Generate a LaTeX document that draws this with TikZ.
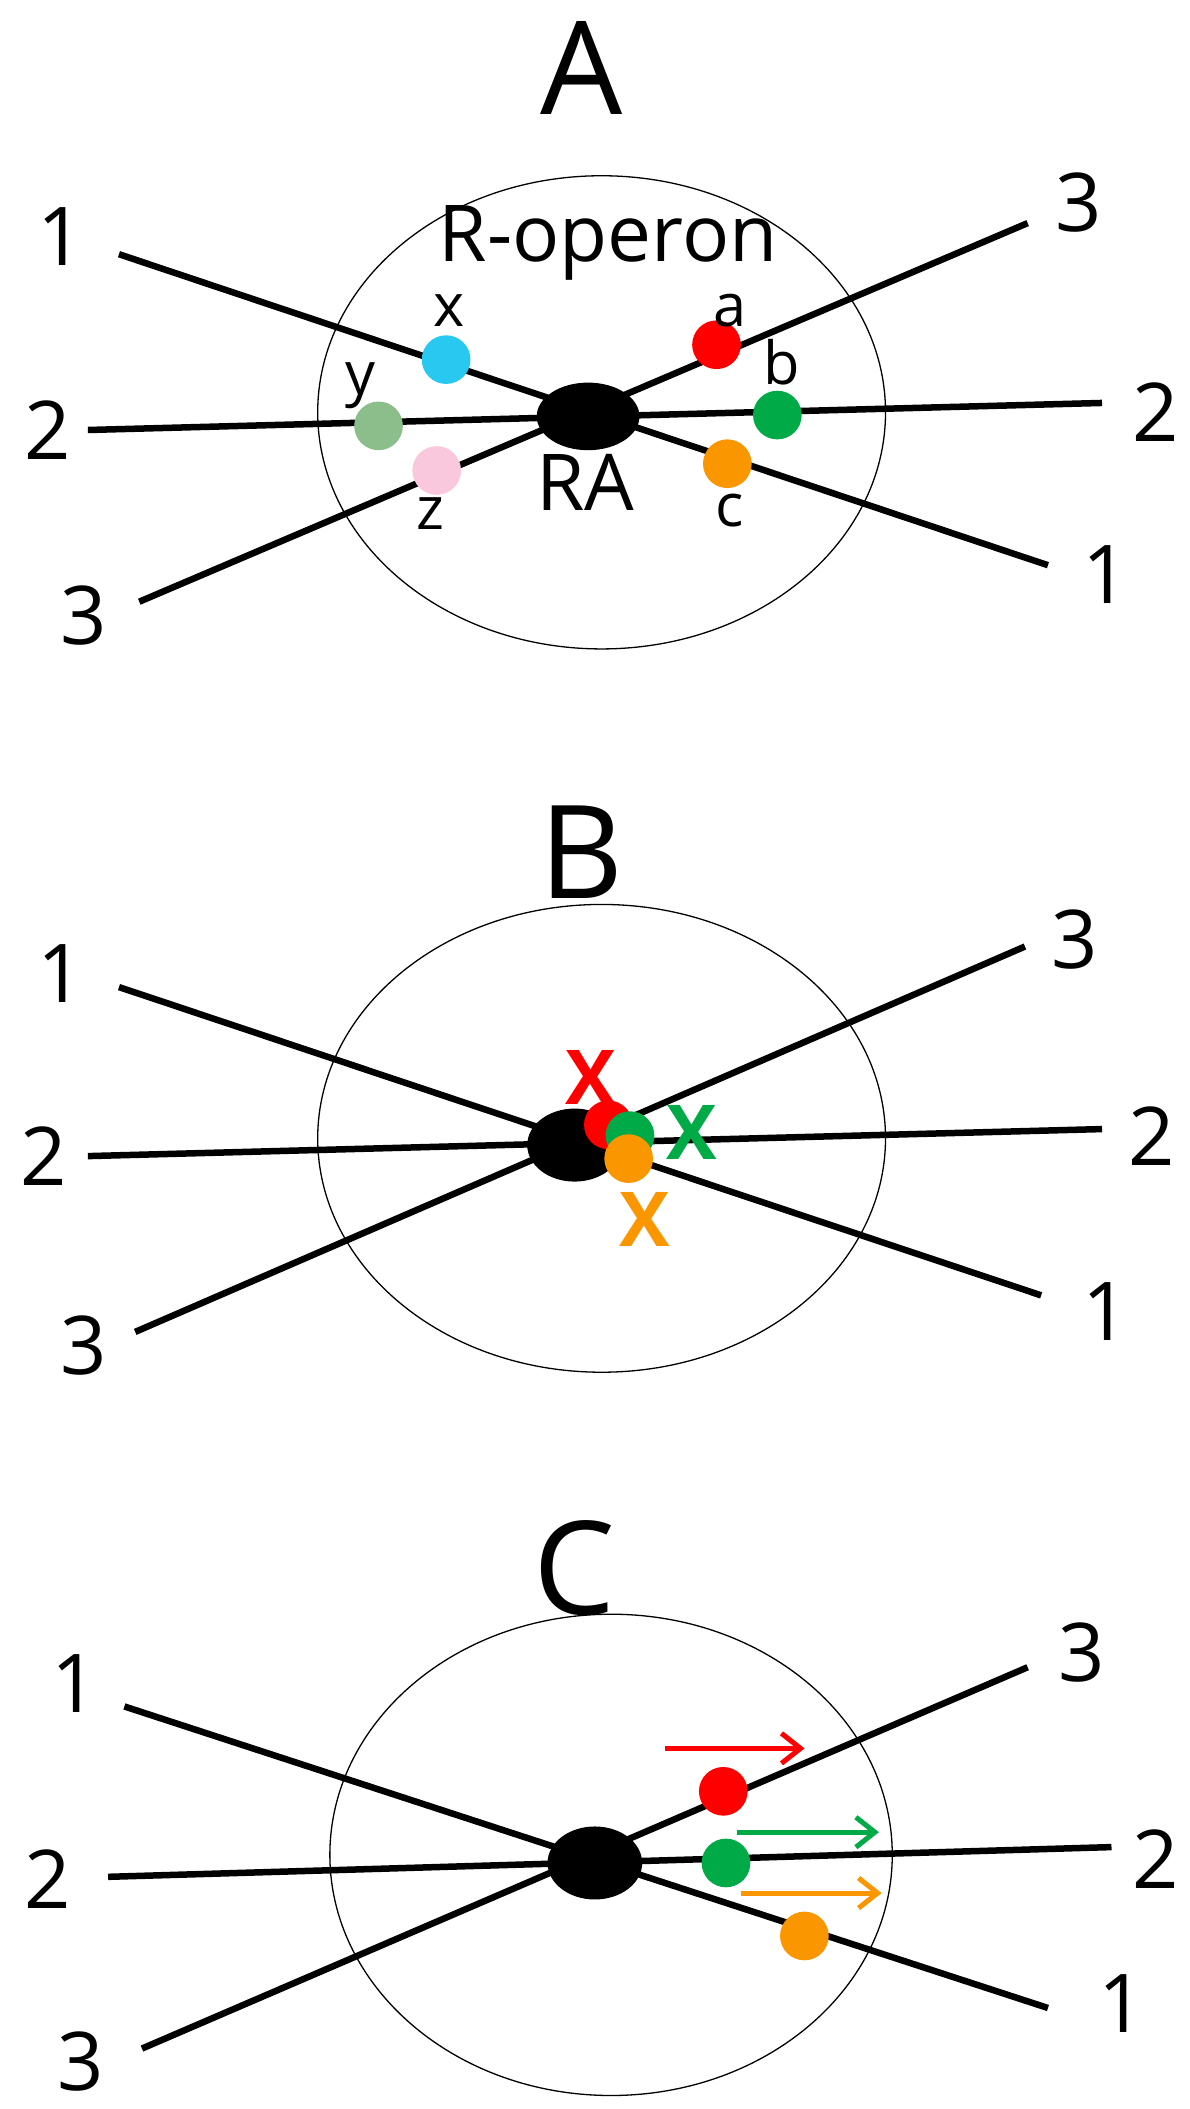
\documentclass[tikz,border=0pt]{standalone}
\usepackage{fontspec}
\setmainfont{Open Sans}
\usetikzlibrary{arrows.meta}
\definecolor{cx}{RGB}{40,200,240}
\definecolor{cy}{RGB}{140,190,140}
\definecolor{cz}{RGB}{250,200,220}
\definecolor{cg}{RGB}{0,170,70}
\definecolor{co}{RGB}{250,150,0}
\begin{document}
\begin{tikzpicture}[x=1pt,y=-1pt,scale=1.352,every node/.style={transform shape},
 ln/.style={line width=6.5pt},
 ring/.style={draw,line width=1.3pt},
 hub/.style={fill=black,draw=none},
 dot/.style={circle,minimum size=36pt,inner sep=0pt,draw=none},
 num/.style={font=\fontsize{60}{60}\selectfont},
 ttl/.style={font=\fontsize{96}{96}\selectfont},
 sm/.style={font=\fontsize{44}{44}\selectfont},
 mx/.style={font=\bfseries\fontsize{56}{56}\selectfont},
 arr/.style={line width=5pt,-{Straight Barb[length=19pt,width=30pt]}}]
\useasboundingbox (0,0) rectangle (879.5,1560);
% Panel A
\node[ttl] (tA) at (430,50) {A};
\draw[ring] (445,305) ellipse (210 and 175);
\coordinate (a1l) at (88,188); \coordinate (a1r) at (775,418);
\coordinate (a2l) at (65,318); \coordinate (a2r) at (815,298);
\coordinate (a3l) at (103,445); \coordinate (a3r) at (760,165);
\draw[ln] (a1l)--(a1r); \draw[ln] (a2l)--(a2r); \draw[ln] (a3l)--(a3r);
\fill[hub] (435,308) ellipse (38 and 25);
\node[num] (A1l) at (45,175) {1}; \node[num] (A2l) at (35,318) {2}; \node[num] (A3l) at (62,455) {3};
\node[num] (A3r) at (798,150) {3}; \node[num] (A2r) at (855,305) {2}; \node[num] (A1r) at (818,425) {1};
\node[font=\fontsize{58}{58}\selectfont] (rop) at (450,180) {R-operon};
\node[font=\fontsize{58}{58}\selectfont] (ra) at (433,357) {RA};
\node[dot,fill=cx] (dx) at (330,266) {};
\node[dot,fill=cy] (dy) at (280,315) {};
\node[dot,fill=cz] (dz) at (323,348) {};
\node[dot,fill=red] (da) at (530,255) {};
\node[dot,fill=cg] (db) at (575,307) {};
\node[dot,fill=co] (dc) at (538,343) {};
\node[sm] (lx) at (332,230) {x}; \node[sm] (ly) at (267,285) {y}; \node[sm] (lz) at (318,380) {z};
\node[sm] (la) at (540,230) {a}; \node[sm] (lb) at (578,268) {b}; \node[sm] (lc) at (540,378) {c};
% Panel B
\node[ttl] (tB) at (430,630) {B};
\draw[ring] (445,842) ellipse (210 and 173);
\coordinate (b1l) at (88,730); \coordinate (b1r) at (770,958);
\coordinate (b2l) at (65,855); \coordinate (b2r) at (815,835);
\coordinate (b3l) at (100,985); \coordinate (b3r) at (758,700);
\draw[ln] (b1l)--(b1r); \draw[ln] (b2l)--(b2r); \draw[ln] (b3l)--(b3r);
\fill[hub] (425,847) ellipse (35 and 27);
\node[num] (B1l) at (45,720) {1}; \node[num] (B2l) at (32,855) {2}; \node[num] (B3l) at (62,995) {3};
\node[num] (B3r) at (795,695) {3}; \node[num] (B2r) at (852,840) {2}; \node[num] (B1r) at (818,970) {1};
\node[dot,fill=red] (e1) at (450,832) {};
\node[dot,fill=cg] (e2) at (466,840) {};
\node[dot,fill=co] (e3) at (465,857) {};
\node[mx,text=red] (x1) at (437,797) {X};
\node[mx,text=cg] (x2) at (512,838) {X};
\node[mx,text=co] (x3) at (477,902) {X};
% Panel C
\node[ttl] (tC) at (425,1160) {C};
\draw[ring] (452,1372) ellipse (208 and 178);
\coordinate (c1l) at (92,1262); \coordinate (c1r) at (775,1485);
\coordinate (c2l) at (80,1388); \coordinate (c2r) at (822,1366);
\coordinate (c3l) at (105,1515); \coordinate (c3r) at (760,1233);
\draw[ln] (c1l)--(c1r); \draw[ln] (c2l)--(c2r); \draw[ln] (c3l)--(c3r);
\fill[hub] (440,1378) ellipse (35 and 27);
\node[num] (C1l) at (55,1245) {1}; \node[num] (C2l) at (35,1390) {2}; \node[num] (C3l) at (60,1525) {3};
\node[num] (C3r) at (800,1222) {3}; \node[num] (C2r) at (855,1375) {2}; \node[num] (C1r) at (830,1482) {1};
\node[dot,fill=red] (f1) at (535,1325) {};
\node[dot,fill=cg] (f2) at (537,1378) {};
\node[dot,fill=co] (f3) at (595,1432) {};
\coordinate (r1) at (492,1293); \coordinate (r2) at (595,1293);
\coordinate (g1) at (545,1355); \coordinate (g2) at (650,1355);
\coordinate (o1) at (548,1400); \coordinate (o2) at (652,1400);
\draw[arr,red] (r1)--(r2);
\draw[arr,cg] (g1)--(g2);
\draw[arr,co] (o1)--(o2);
\end{tikzpicture}
\end{document}
